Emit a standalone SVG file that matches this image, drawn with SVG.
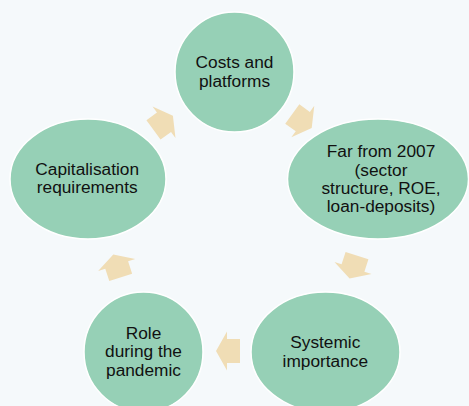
<svg xmlns="http://www.w3.org/2000/svg" width="469" height="406" viewBox="0 0 469 406">
  <style>
    .node { fill: #96D0B6; stroke: #FFFFFF; stroke-width: 1.5; }
    .arrow { fill: #F0DDB5; }
    text { font-family: "Liberation Sans", Arial, sans-serif; font-size: 17.3px; fill: #111111; text-anchor: middle; }
  </style>
  <defs>
    <!-- block arrow pointing along +x, centred on the origin -->
    <polygon id="blockArrow" points="12,0 1,-19.5 1,-12 -12,-12 -12,12 1,12 1,19.5"/>
  </defs>
  <rect width="469" height="406" fill="#F5F9FB"/>

  <g id="connectors">
    <use href="#blockArrow" class="arrow" transform="translate(163.2,122.8) rotate(-36)"/>
    <use href="#blockArrow" class="arrow" transform="translate(302,121) rotate(36)"/>
    <use href="#blockArrow" class="arrow" transform="translate(353.3,267) rotate(108)"/>
    <use href="#blockArrow" class="arrow" transform="translate(228,351) rotate(180)"/>
    <use href="#blockArrow" class="arrow" transform="translate(117,266) rotate(252)"/>
  </g>

  <g id="costs">
    <ellipse class="node" cx="234.5" cy="72" rx="59.5" ry="60"/>
    <text x="234.5" y="68.3">Costs and</text>
    <text x="234.5" y="87">platforms</text>
  </g>

  <g id="far-from-2007">
    <ellipse class="node" cx="378" cy="179" rx="90.5" ry="60"/>
    <text x="381" y="157.3">Far from 2007</text>
    <text x="381" y="175.7">(sector</text>
    <text x="381" y="194">structure, ROE,</text>
    <text x="381" y="212.3">loan-deposits)</text>
  </g>

  <g id="systemic">
    <ellipse class="node" cx="325.5" cy="352" rx="74.5" ry="60"/>
    <text x="325.3" y="347.9">Systemic</text>
    <text x="325.3" y="366.6">importance</text>
  </g>

  <g id="pandemic">
    <ellipse class="node" cx="143.5" cy="352" rx="59.5" ry="60"/>
    <text x="143.5" y="339">Role</text>
    <text x="143.5" y="357.3">during the</text>
    <text x="143.5" y="375.7">pandemic</text>
  </g>

  <g id="capitalisation">
    <ellipse class="node" cx="88" cy="179" rx="78" ry="60"/>
    <text x="87.2" y="175.3">Capitalisation</text>
    <text x="87.2" y="193.3">requirements</text>
  </g>
</svg>
